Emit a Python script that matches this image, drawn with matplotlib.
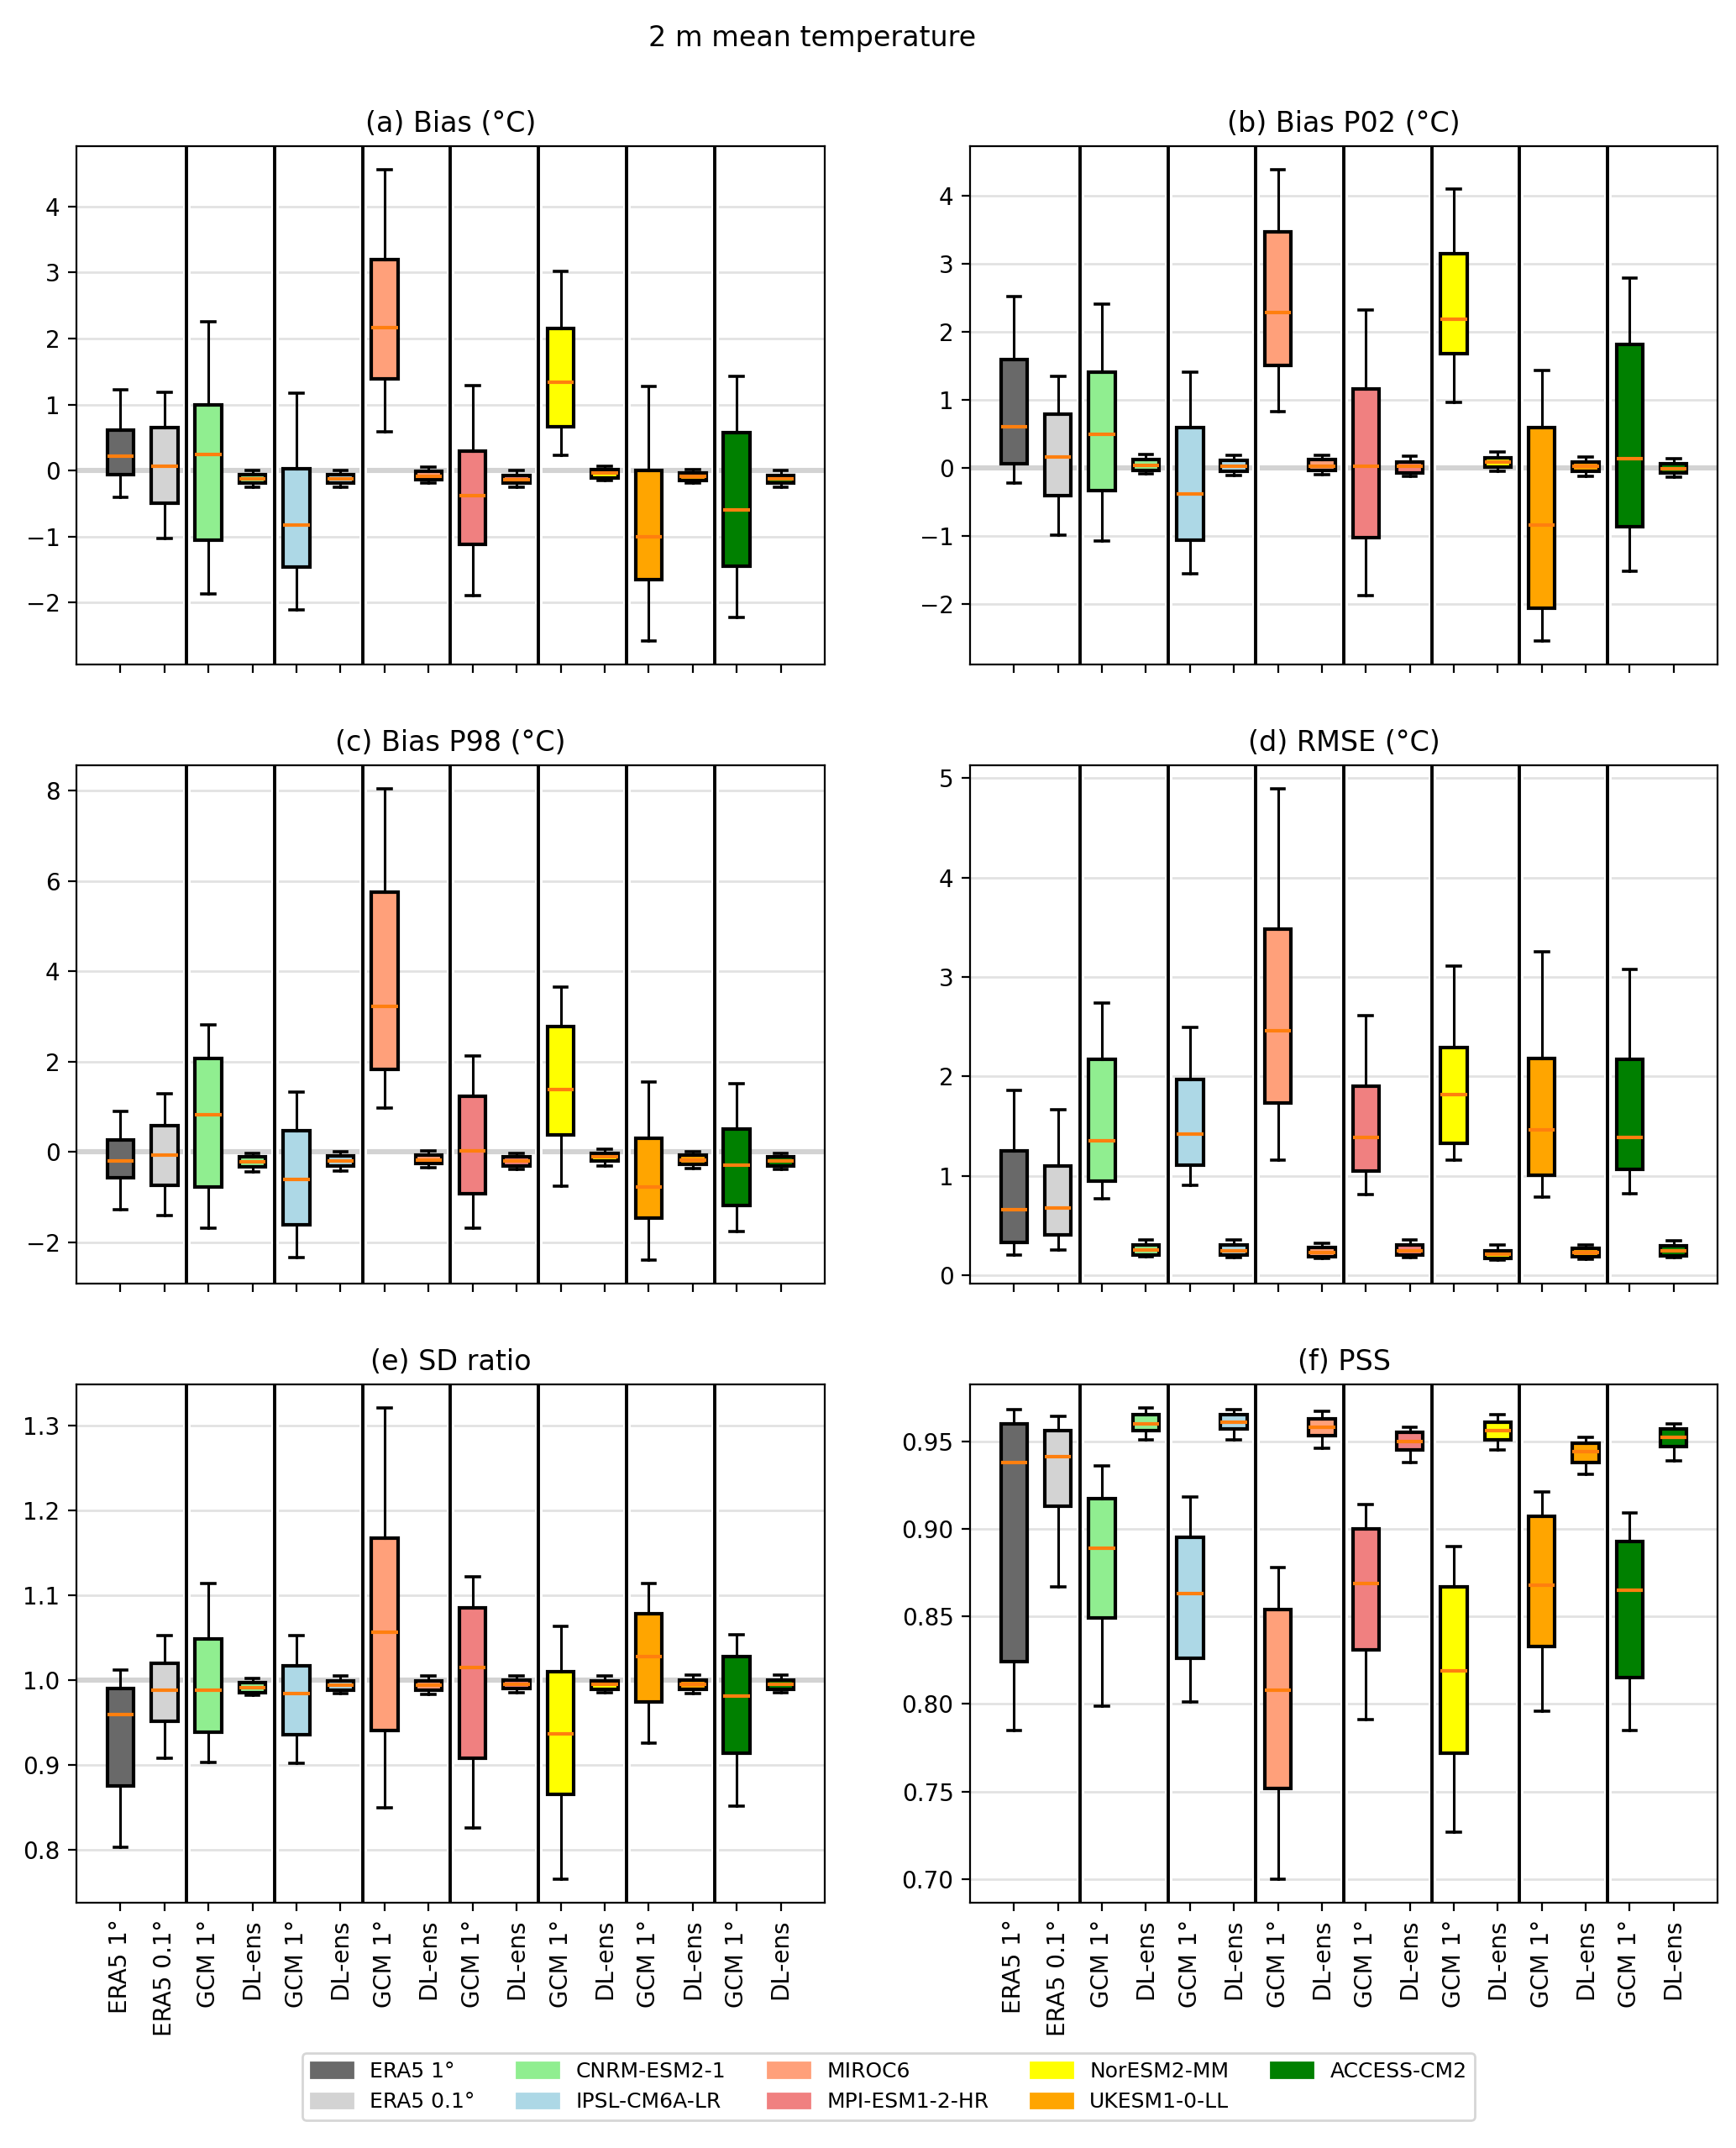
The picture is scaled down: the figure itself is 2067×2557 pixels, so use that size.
import matplotlib
matplotlib.use("Agg")
import matplotlib.pyplot as plt
from matplotlib.patches import Patch
from matplotlib.ticker import MultipleLocator, FormatStrFormatter

# box stats per column: (whisker low, q1, median, q3, whisker high)
tick_labels = ["ERA5 1°", "ERA5 0.1°"] + ["GCM 1°", "DL-ens"] * 7

models = ["CNRM-ESM2-1", "IPSL-CM6A-LR", "MIROC6", "MPI-ESM1-2-HR",
          "NorESM2-MM", "UKESM1-0-LL", "ACCESS-CM2"]
model_colors = ["lightgreen", "lightblue", "lightsalmon", "lightcoral",
                "yellow", "orange", "green"]
era_labels = ["ERA5 1°", "ERA5 0.1°"]
era_colors = ["dimgray", "lightgray"]

bias = [
    (-0.40, -0.06, 0.22, 0.61, 1.23),
    (-1.03, -0.49, 0.06, 0.65, 1.19),
    (-1.87, -1.06, 0.24, 1.00, 2.25),
    (-0.25, -0.19, -0.13, -0.06, 0.00),
    (-2.11, -1.46, -0.83, 0.03, 1.17),
    (-0.25, -0.19, -0.12, -0.06, 0.00),
    (0.59, 1.39, 2.17, 3.20, 4.56),
    (-0.19, -0.14, -0.09, -0.01, 0.05),
    (-1.90, -1.12, -0.38, 0.30, 1.29),
    (-0.25, -0.19, -0.14, -0.07, 0.00),
    (0.23, 0.66, 1.34, 2.15, 3.02),
    (-0.15, -0.11, -0.04, 0.02, 0.07),
    (-2.58, -1.65, -1.00, 0.00, 1.27),
    (-0.19, -0.15, -0.09, -0.03, 0.02),
    (-2.23, -1.45, -0.59, 0.57, 1.43),
    (-0.25, -0.19, -0.13, -0.07, 0.00),
]

bias_p02 = [
    (-0.22, 0.055, 0.60, 1.59, 2.51),
    (-0.99, -0.41, 0.155, 0.79, 1.35),
    (-1.07, -0.33, 0.49, 1.40, 2.40),
    (-0.09, -0.04, 0.04, 0.12, 0.20),
    (-1.55, -1.06, -0.38, 0.59, 1.41),
    (-0.11, -0.05, 0.03, 0.11, 0.19),
    (0.83, 1.51, 2.28, 3.47, 4.38),
    (-0.10, -0.04, 0.03, 0.12, 0.19),
    (-1.87, -1.02, 0.02, 1.16, 2.32),
    (-0.13, -0.07, 0.02, 0.09, 0.17),
    (0.96, 1.68, 2.18, 3.14, 4.10),
    (-0.05, 0.01, 0.09, 0.15, 0.23),
    (-2.54, -2.06, -0.84, 0.59, 1.43),
    (-0.12, -0.055, 0.03, 0.09, 0.155),
    (-1.52, -0.86, 0.14, 1.81, 2.79),
    (-0.14, -0.08, -0.01, 0.06, 0.13),
]

bias_p98 = [
    (-1.27, -0.57, -0.19, 0.27, 0.90),
    (-1.40, -0.73, -0.07, 0.59, 1.29),
    (-1.68, -0.77, 0.82, 2.07, 2.82),
    (-0.43, -0.32, -0.22, -0.10, -0.03),
    (-2.33, -1.61, -0.61, 0.48, 1.33),
    (-0.42, -0.30, -0.19, -0.08, 0.00),
    (0.97, 1.83, 3.23, 5.76, 8.04),
    (-0.35, -0.26, -0.17, -0.07, 0.02),
    (-1.68, -0.92, 0.02, 1.23, 2.12),
    (-0.38, -0.30, -0.20, -0.10, -0.03),
    (-0.76, 0.39, 1.39, 2.78, 3.65),
    (-0.30, -0.20, -0.10, -0.03, 0.07),
    (-2.39, -1.46, -0.78, 0.31, 1.55),
    (-0.36, -0.27, -0.17, -0.07, 0.01),
    (-1.75, -1.18, -0.28, 0.52, 1.52),
    (-0.39, -0.30, -0.20, -0.10, -0.03),
]

rmse = [
    (0.21, 0.33, 0.66, 1.25, 1.86),
    (0.26, 0.41, 0.68, 1.10, 1.67),
    (0.77, 0.95, 1.35, 2.17, 2.74),
    (0.185, 0.21, 0.26, 0.31, 0.36),
    (0.91, 1.11, 1.42, 1.97, 2.49),
    (0.18, 0.21, 0.25, 0.31, 0.36),
    (1.16, 1.73, 2.46, 3.48, 4.89),
    (0.17, 0.19, 0.23, 0.28, 0.325),
    (0.81, 1.05, 1.39, 1.90, 2.61),
    (0.18, 0.21, 0.25, 0.31, 0.36),
    (1.16, 1.33, 1.82, 2.29, 3.11),
    (0.155, 0.17, 0.215, 0.25, 0.31),
    (0.79, 1.01, 1.46, 2.18, 3.25),
    (0.16, 0.19, 0.23, 0.27, 0.31),
    (0.82, 1.07, 1.39, 2.17, 3.08),
    (0.18, 0.20, 0.25, 0.30, 0.35),
]

sd_ratio = [
    (0.803, 0.875, 0.959, 0.990, 1.012),
    (0.908, 0.951, 0.988, 1.020, 1.052),
    (0.903, 0.938, 0.988, 1.048, 1.114),
    (0.982, 0.985, 0.991, 0.997, 1.002),
    (0.902, 0.935, 0.984, 1.017, 1.052),
    (0.984, 0.988, 0.994, 0.999, 1.0045),
    (0.849, 0.940, 1.056, 1.167, 1.321),
    (0.983, 0.988, 0.994, 0.999, 1.0045),
    (0.825, 0.908, 1.015, 1.085, 1.122),
    (0.985, 0.990, 0.995, 1.000, 1.0045),
    (0.765, 0.865, 0.936, 1.010, 1.063),
    (0.985, 0.989, 0.995, 0.999, 1.0045),
    (0.926, 0.974, 1.028, 1.078, 1.114),
    (0.984, 0.989, 0.995, 1.000, 1.006),
    (0.851, 0.914, 0.981, 1.028, 1.053),
    (0.985, 0.989, 0.995, 1.000, 1.006),
]

pss = [
    (0.785, 0.824, 0.938, 0.960, 0.968),
    (0.867, 0.913, 0.941, 0.956, 0.964),
    (0.799, 0.849, 0.889, 0.917, 0.936),
    (0.951, 0.956, 0.960, 0.965, 0.969),
    (0.801, 0.826, 0.863, 0.895, 0.918),
    (0.951, 0.957, 0.961, 0.965, 0.968),
    (0.700, 0.752, 0.808, 0.854, 0.878),
    (0.946, 0.953, 0.958, 0.963, 0.967),
    (0.791, 0.831, 0.869, 0.900, 0.914),
    (0.938, 0.945, 0.950, 0.955, 0.958),
    (0.727, 0.772, 0.819, 0.867, 0.890),
    (0.945, 0.951, 0.956, 0.961, 0.965),
    (0.796, 0.833, 0.868, 0.907, 0.921),
    (0.931, 0.938, 0.944, 0.949, 0.952),
    (0.785, 0.815, 0.865, 0.893, 0.909),
    (0.939, 0.947, 0.952, 0.957, 0.960),
]

box_colors = era_colors + [c for c in model_colors for _ in range(2)]
positions = list(range(1, 17))


def draw_panel(ax, stats, title, ref, step, fmt=None, labels=False):
    bstats = [dict(whislo=s[0], q1=s[1], med=s[2], q3=s[3], whishi=s[4], fliers=[])
              for s in stats]
    bp = ax.bxp(bstats, positions=positions, widths=0.6, patch_artist=True,
                showfliers=False,
                boxprops=dict(linewidth=1.5, edgecolor="black"),
                medianprops=dict(color="#ff7f0e", linewidth=1.5),
                whiskerprops=dict(linewidth=1.1),
                capprops=dict(linewidth=1.3))
    for patch, c in zip(bp["boxes"], box_colors):
        patch.set_facecolor(c)

    ax.set_axisbelow(True)
    ax.grid(axis="y", color="#e2e2e2", linewidth=1.0)
    if ref is not None:
        ax.axhline(ref, color="lightgray", linewidth=2.2, zorder=1)
    for x in range(2, 16, 2):
        ax.axvline(x + 0.5, color="white", linewidth=3.2, zorder=1.4)
        ax.axvline(x + 0.5, color="black", linewidth=1.4, zorder=1.5)

    ax.set_xlim(0, 17)
    ax.set_xticks(positions)
    if labels:
        ax.set_xticklabels(tick_labels, rotation=90, fontsize=10)
    else:
        ax.set_xticklabels([])
    ax.yaxis.set_major_locator(MultipleLocator(step))
    if fmt:
        ax.yaxis.set_major_formatter(FormatStrFormatter(fmt))
    ax.tick_params(axis="y", labelsize=10)
    ax.set_title(title, fontsize=12)


fig = plt.figure(figsize=(2067 / 200, 2557 / 200), dpi=200)

lefts = [0.0440, 0.5588]
widths = [0.4311, 0.4306]
bottoms = [0.6907, 0.4024, 0.1142]
height = 0.2413

panels = [
    (bias, "(a) Bias (°C)", 0.0, 1, None),
    (bias_p02, "(b) Bias P02 (°C)", 0.0, 1, None),
    (bias_p98, "(c) Bias P98 (°C)", 0.0, 2, None),
    (rmse, "(d) RMSE (°C)", None, 1, None),
    (sd_ratio, "(e) SD ratio", 1.0, 0.1, None),
    (pss, "(f) PSS", None, 0.05, "%.2f"),
]

for i, (stats, title, ref, step, fmt) in enumerate(panels):
    row, col = divmod(i, 2)
    ax = fig.add_axes([lefts[col], bottoms[row], widths[col], height])
    draw_panel(ax, stats, title, ref, step, fmt, labels=(row == 2))

fig.text(0.468, 1 - 45 / 2557, "2 m mean temperature", ha="center", va="center",
         fontsize=12)

handles = [Patch(color=c, label=l) for c, l in zip(era_colors, era_labels)]
handles += [Patch(color=c, label=m) for c, m in zip(model_colors, models)]
fig.legend(handles=handles, loc="lower center", ncol=5, fontsize=9,
           bbox_to_anchor=(0.512, 0.0129), borderaxespad=0.0)

fig.savefig("out.png", dpi=200)
